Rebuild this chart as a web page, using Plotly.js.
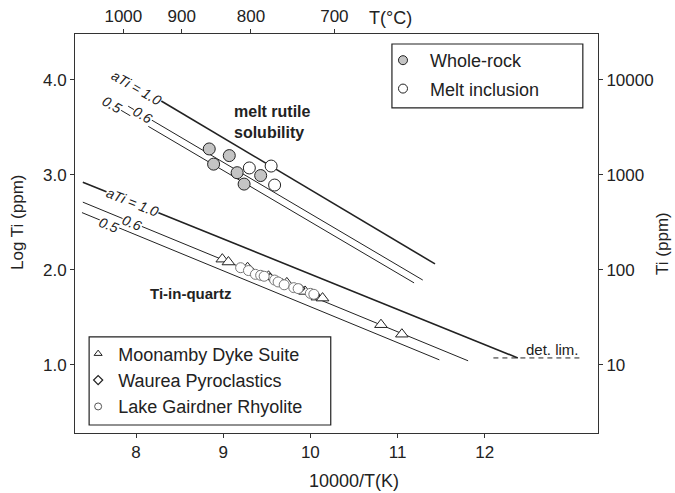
<!DOCTYPE html>
<html><head><meta charset="utf-8">
<script src="https://cdn.plot.ly/plotly-3.0.1.min.js"></script>
<style>body{margin:0;padding:0;background:#fff}</style>
</head><body>
<div id="chart" style="width:675px;height:493px"></div>
<script>
// ---- data ----
const wholeRockX = [8.84, 9.07, 8.89, 9.16, 9.24, 9.43];
const wholeRockY = [3.27, 3.20, 3.11, 3.02, 2.90, 2.99];
const meltInclX = [9.30, 9.55, 9.59];
const meltInclY = [3.07, 3.09, 2.89];

const moonambyX = [8.99, 9.06, 9.28, 9.52, 9.73, 9.94, 10.08, 10.14, 10.81, 11.05];
const moonambyY = [2.11, 2.08, 2.02, 1.93, 1.86, 1.77, 1.71, 1.70, 1.42, 1.32];
const waureaX = [9.31, 9.54, 9.68, 9.89, 10.06];
const waureaY = [2.00, 1.92, 1.86, 1.80, 1.73];
const gairdnerX = [9.20, 9.29, 9.37, 9.43, 9.47, 9.59, 9.63, 9.70, 9.81, 9.86, 10.00, 10.04];
const gairdnerY = [2.02, 1.99, 1.95, 1.94, 1.93, 1.89, 1.87, 1.84, 1.81, 1.80, 1.75, 1.74];

// reference lines (end points)
const qtz10X = [7.39, 12.38], qtz10Y = [2.92, 1.07];
const qtz06X = [7.39, 11.81], qtz06Y = [2.71, 1.04];
const qtz05X = [7.38, 11.48], qtz05Y = [2.60, 1.05];
const melt10X = [8.28, 11.43], melt10Y = [3.78, 2.06];
const melt06X = [7.91, 11.29], melt06Y = [3.72, 1.89];
const melt05X = [7.73, 11.19], melt05Y = [3.73, 1.86];
const detLimX = [12.1, 13.1], detLimY = [1.07, 1.07];

// axes ticks
const xTicks = [8, 9, 10, 11, 12];
const yTicks = [1, 2, 3, 4];
const yTickText = ['1.0', '2.0', '3.0', '4.0'];
const rightTickText = ['10', '100', '1000', '10000'];
const topTempsC = [1000, 900, 800, 700];

const FONT = 'Liberation Sans, Arial, Helvetica, sans-serif';
const INK = '#222';

function line(x, y, w, dash, onTop) {
  const t = {x: x, y: y, mode: 'lines', type: 'scatter', showlegend: false, hoverinfo: 'skip',
          line: {color: INK, width: w, dash: dash || 'solid'}};
  if (onTop) { t.xaxis = 'x2'; t.yaxis = 'y2'; }
  return t;
}

const traces = [
  line(qtz10X, qtz10Y, 1.6), line(qtz06X, qtz06Y, 1), line(qtz05X, qtz05Y, 1),
  line(melt10X, melt10Y, 1.6), line(melt06X, melt06Y, 1), line(melt05X, melt05Y, 1),
  line(detLimX, detLimY, 1, '5px,4px', true),
  {x: moonambyX, y: moonambyY, mode: 'markers', type: 'scatter', showlegend: false,
   marker: {symbol: 'triangle-up', size: 11, color: 'white', line: {color: INK, width: 1}}},
  {x: waureaX, y: waureaY, mode: 'markers', type: 'scatter', showlegend: false,
   marker: {symbol: 'diamond', size: 6, color: 'white', line: {color: INK, width: 1.2}}},
  {x: gairdnerX, y: gairdnerY, mode: 'markers', type: 'scatter', showlegend: false,
   marker: {symbol: 'circle', size: 10, color: 'white', line: {color: '#777', width: 1}}},
  {x: wholeRockX, y: wholeRockY, mode: 'markers', type: 'scatter', showlegend: false,
   marker: {symbol: 'circle', size: 12, color: '#c4c4c4', line: {color: INK, width: 1}}},
  {x: meltInclX, y: meltInclY, mode: 'markers', type: 'scatter', showlegend: false,
   marker: {symbol: 'circle', size: 12, color: 'white', line: {color: INK, width: 1}}},
  // legend entries
  {x: [null], y: [null], mode: 'markers', type: 'scatter', name: 'Whole-rock', legend: 'legend', legendgroup: 'a',
   marker: {symbol: 'circle', size: 9, color: '#c4c4c4', line: {color: INK, width: 1}}},
  {x: [null], y: [null], mode: 'markers', type: 'scatter', name: 'Melt inclusion', legend: 'legend', legendgroup: 'b',
   marker: {symbol: 'circle', size: 9, color: 'white', line: {color: INK, width: 1}}},
  {x: [null], y: [null], mode: 'markers', type: 'scatter', name: 'Moonamby Dyke Suite', legend: 'legend2',
   marker: {symbol: 'triangle-up', size: 7, color: 'white', line: {color: INK, width: 1}}},
  {x: [null], y: [null], mode: 'markers', type: 'scatter', name: 'Waurea Pyroclastics', legend: 'legend2',
   marker: {symbol: 'diamond', size: 7, color: 'white', line: {color: INK, width: 1.2}}},
  {x: [null], y: [null], mode: 'markers', type: 'scatter', name: 'Lake Gairdner Rhyolite', legend: 'legend2',
   marker: {symbol: 'circle', size: 7, color: 'white', line: {color: '#555', width: 1}}}
];

const axisBase = {showgrid: false, zeroline: false, showline: true, linecolor: '#333', linewidth: 1,
  ticks: 'outside', ticklen: 4, tickcolor: '#333', tickfont: {family: FONT, size: 17, color: INK}};

function lab(text, x, y, angle, extra) {
  return Object.assign({text: text, x: x, y: y, xref: 'x', yref: 'y', showarrow: false,
    xanchor: 'center', yanchor: 'middle',
    textangle: angle, bgcolor: 'white', borderpad: 0,
    font: {family: FONT, size: 14, color: INK}}, extra || {});
}
function txt(text, x, y, xref, yref, size, angle) {
  return {text: text, x: x, y: y, xref: xref, yref: yref, showarrow: false,
    xanchor: 'center', yanchor: 'middle', textangle: angle || 0,
    font: {family: FONT, size: size, color: INK}};
}

const annotations = [
  lab('<i>aTi = 1.0</i>', 7.955, 2.71, 22),
  lab('<i>0.6</i>', 7.955, 2.49, 22),
  lab('<i>0.5</i>', 7.69, 2.47, 22),
  lab('<i>aTi = 1.0</i>', 8.01, 3.91, 30),
  lab('<i>0.6</i>', 8.08, 3.63, 30),
  lab('<i>0.5</i>', 7.73, 3.73, 30),
  Object.assign(txt('<b>melt rutile<br>solubility</b>', 9.56, 3.55, 'x', 'y', 16), {align: 'left'}),
  txt('<b>Ti-in-quartz</b>', 8.62, 1.75, 'x', 'y', 15),
  txt('det. lim.', 12.78, 1.16, 'x', 'y', 15),
  txt('T(°C)', 10.92, 1.040, 'x', 'paper', 18),
  txt('10000/T(K)', 10.5, -0.1203, 'x', 'paper', 18),
  txt('Log Ti (ppm)', -0.109, 0.529, 'paper', 'paper', 17, -90),
  txt('Ti (ppm)', 1.122, 0.476, 'paper', 'paper', 17, -90)
];

const layout = {
  width: 675, height: 493,
  margin: {l: 75, r: 77, t: 34, b: 60},
  paper_bgcolor: 'white', plot_bgcolor: 'white',
  font: {family: FONT, color: INK},
  xaxis: Object.assign({}, axisBase, {range: [7.3, 13.3], tickvals: xTicks, ticktext: xTicks.map(String)}),
  xaxis2: Object.assign({}, axisBase, {range: [7.3, 13.3], overlaying: 'x', side: 'top', anchor: 'y2',
    tickvals: topTempsC.map(t => 10000 / (t + 273.15)), ticktext: topTempsC.map(String)}),
  yaxis: Object.assign({}, axisBase, {range: [0.28, 4.48], tickvals: yTicks, ticktext: yTickText}),
  yaxis2: Object.assign({}, axisBase, {range: [0.28, 4.48], overlaying: 'y', side: 'right', anchor: 'x2',
    tickvals: yTicks, ticktext: rightTickText}),
  legend: {x: 0.5755, y: 0.980, xanchor: 'left', yanchor: 'top', bgcolor: 'rgba(0,0,0,0)',
    borderwidth: 0, itemwidth: 44, tracegroupgap: 2, font: {family: FONT, size: 18, color: INK}},
  legend2: {x: 0.006, y: 0.2445, xanchor: 'left', yanchor: 'top', bgcolor: 'rgba(0,0,0,0)',
    borderwidth: 0, itemwidth: 30, font: {family: FONT, size: 18, color: INK}},
  shapes: [
    {type: 'rect', xref: 'paper', yref: 'paper', x0: 0.606, x1: 0.971, y0: 0.815, y1: 0.975,
     line: {color: INK, width: 1.2}, fillcolor: 'rgba(0,0,0,0)'},
    {type: 'rect', xref: 'paper', yref: 'paper', x0: 0.027, x1: 0.489, y0: 0.020, y1: 0.241,
     line: {color: INK, width: 1.2}, fillcolor: 'rgba(0,0,0,0)'}
  ],
  annotations: annotations,
  showlegend: true
};

Plotly.newPlot('chart', traces, layout, {displayModeBar: false, staticPlot: true});
</script>
</body></html>
